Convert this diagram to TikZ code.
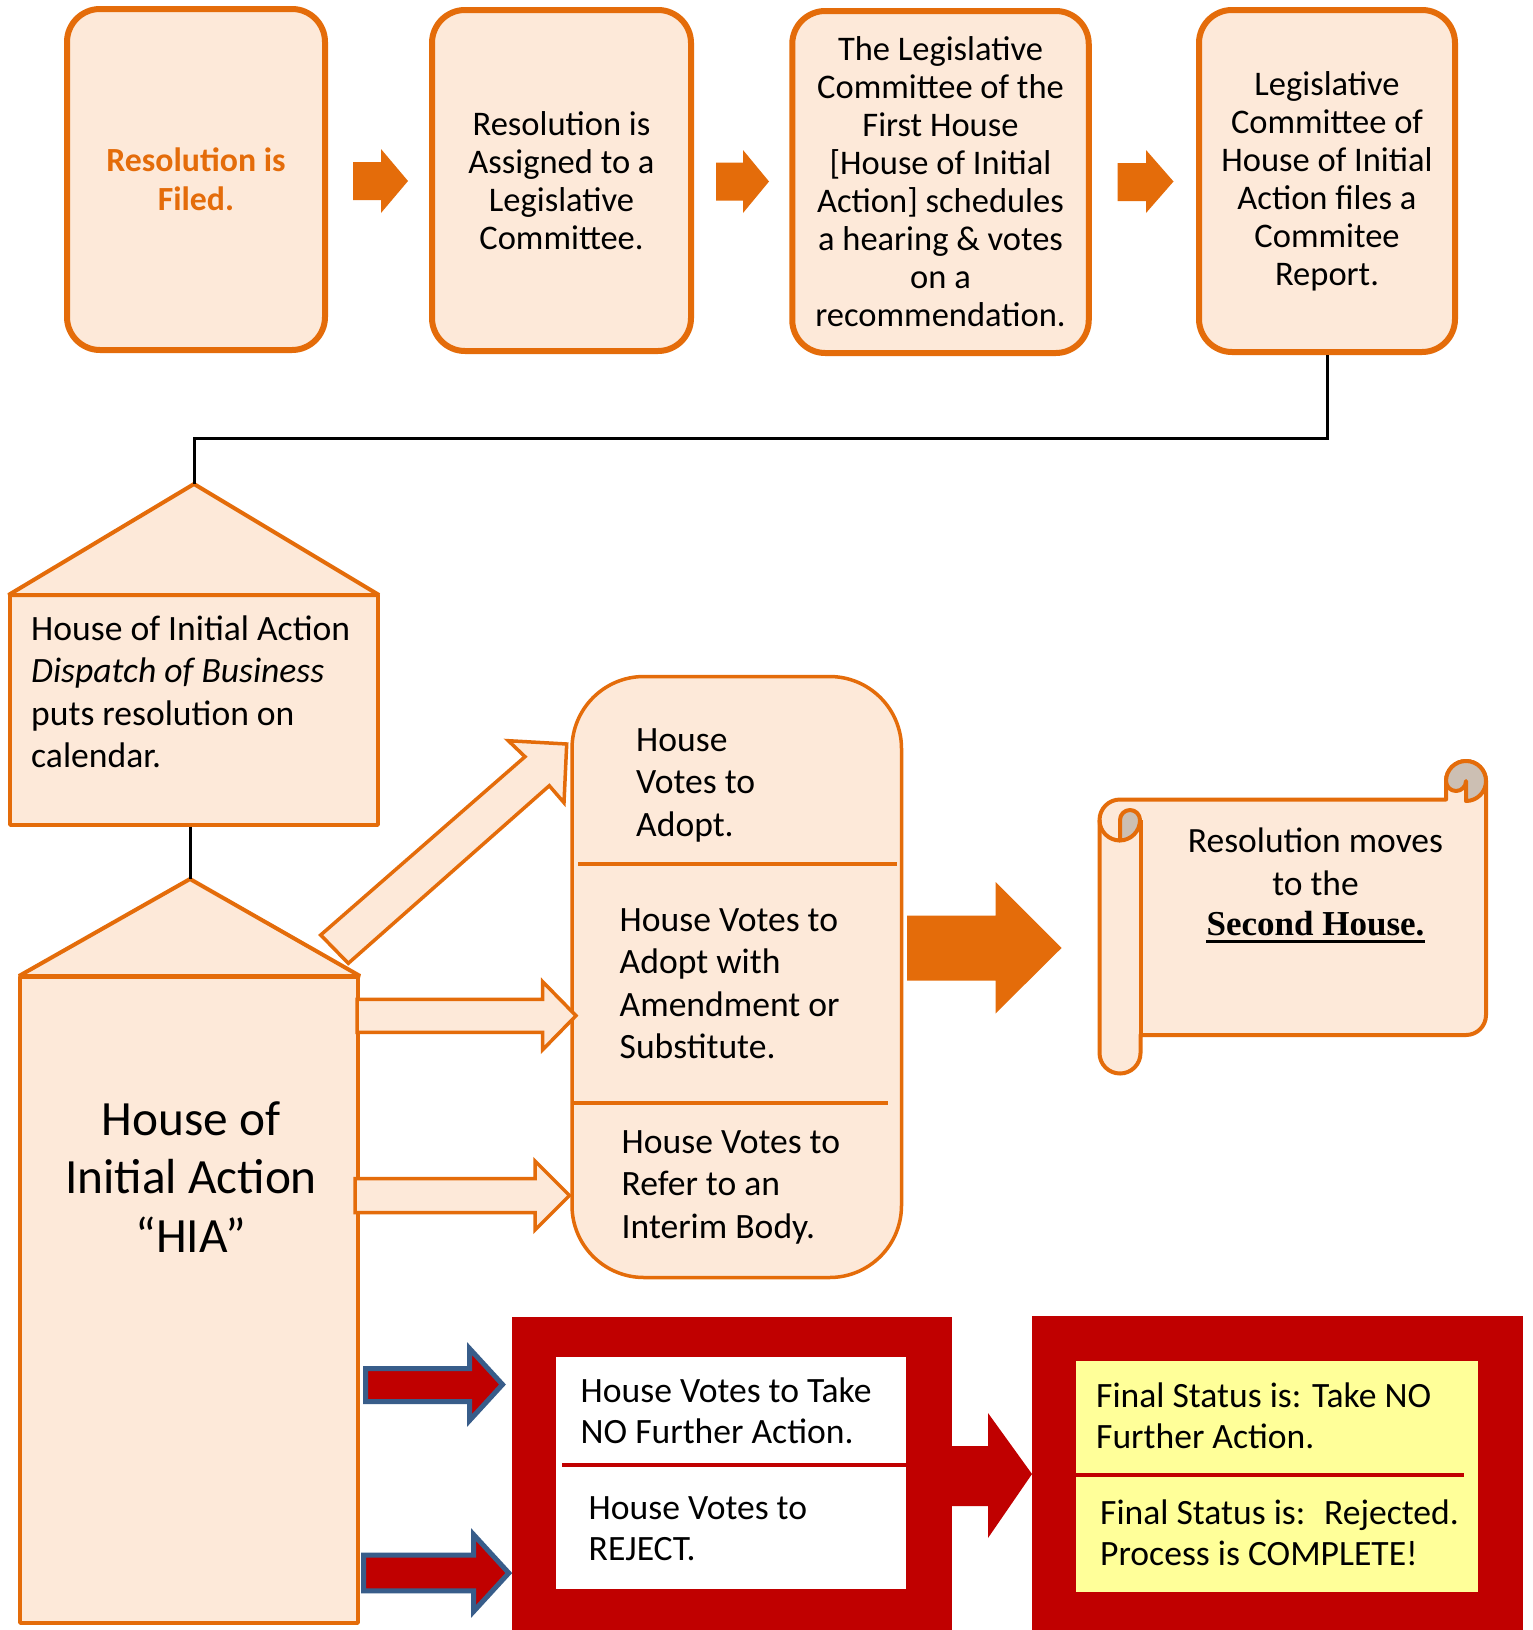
\documentclass[tikz,border=0pt]{standalone}
\usepackage{fontspec}
\setmainfont{Carlito}
\newfontfamily\serifbold{Liberation Serif}
\definecolor{orng}{HTML}{E46C0A}
\definecolor{peach}{HTML}{FDE9D9}
\definecolor{deepred}{HTML}{C00000}
\definecolor{slateblue}{HTML}{385D8A}
\definecolor{paleyellow}{HTML}{FFFF99}
\definecolor{curlgray}{HTML}{CCBFB3}
\begin{document}
\begin{tikzpicture}[x=1pt,y=-1pt,
  topbox/.style={draw=orng, fill=peach, line width=6pt, rounded corners=33pt, inner sep=0pt,
                 font=\fontsize{34.5}{38}\selectfont, align=center},
  housepart/.style={draw=orng, fill=peach, line width=4pt, line join=bevel, inner sep=0pt},
  bodyfont/.style={font=\fontsize{35.6}{42.5}\selectfont, align=left, inner sep=0pt},
  redfont/.style={font=\fontsize{35.6}{41}\selectfont, align=left, inner sep=0pt},
  hollowarrow/.style={draw=orng, fill=peach, line width=3.5pt, line join=miter},
  orngfill/.style={fill=orng},
  redarrow/.style={fill=deepred, draw=slateblue, line width=5pt, line join=miter},
  conn/.style={draw=black, line width=3pt},
  scrollline/.style={draw=orng, line width=4pt, line join=round}
]
\fill[white] (0,0) rectangle (1532,1630);
\useasboundingbox (0,0) rectangle (1532,1630);

% ---- top row of committee steps ----
\node[topbox, minimum width=258pt, minimum height=341pt,
      font=\fontsize{33.8}{39}\selectfont\bfseries, text=orng] (b1) at (196,179.5)
      {Resolution is\\Filed.};
\node[topbox, minimum width=259pt, minimum height=341pt] (b2) at (561.5,180.5)
      {Resolution is\\Assigned to a\\Legislative\\Committee.};
\node[topbox, minimum width=296.5pt, minimum height=342pt] (b3) at (940.5,182)
      {The Legislative\\Committee of the\\First House\\{}[House of Initial\\Action] schedules\\a hearing \& votes\\on a\\recommendation.};
\node[topbox, minimum width=256pt, minimum height=342pt] (b4) at (1327,181)
      {Legislative\\Committee of\\House of Initial\\Action files a\\Commitee\\Report.};

% solid block arrows between the steps
\fill[orngfill] (353,162) -- (381,162) -- (381,149) -- (408,181) -- (381,213) -- (381,200) -- (353,200) -- cycle;
\fill[orngfill] (716,162.5) -- (743,162.5) -- (743,150) -- (769,181.5) -- (743,213) -- (743,200.5) -- (716,200.5) -- cycle;
\fill[orngfill] (1117.5,163) -- (1146,163) -- (1146,150) -- (1173.5,181.5) -- (1146,213) -- (1146,201) -- (1117.5,201) -- cycle;

% ---- dispatch of business (house shape) ----
\node[housepart, minimum width=368pt, minimum height=229.5pt] (p1) at (193.5,709.75) {};
\coordinate (p1top) at (194,484);
\draw[housepart] (p1top) -- (379,595) -- (8.5,595) -- cycle;
\node[bodyfont, anchor=west] (p1text) at (31,692)
      {House of Initial Action\\\textit{Dispatch of Business}\\puts resolution on\\calendar.};

\coordinate (bend) at (194,438);
\draw[conn] (b4.south) |- (bend) -- (p1top);

% ---- house of initial action (tall house shape) ----
\node[housepart, minimum width=338pt, minimum height=645.5pt] (p2) at (188.5,1299.75) {};
\coordinate (p2top) at (190,879);
\draw[housepart] (p2top) -- (360,976) -- (19,976) -- cycle;
\node[font=\fontsize{49.3}{58.5}\selectfont, align=center, inner sep=0pt] (hia) at (191,1177)
      {House of\\Initial Action\\“HIA”};
\draw[conn] (p1.south -| p2top) -- (p2top);

% ---- vote outcomes box ----
\node[draw=orng, fill=peach, line width=3.5pt, rounded corners=72pt,
      minimum width=329.5pt, minimum height=601pt] (mid) at (736.75,977) {};
\draw[orng, line width=4pt] (578,864) -- (897,864);
\draw[orng, line width=4pt] (572,1103.4) -- (888,1103.4);
\node[bodyfont, anchor=west] (adopt) at (636,785) {House\\Votes to\\Adopt.};
\node[bodyfont, anchor=west] (amend) at (619.5,983.5) {House Votes to\\Adopt with\\Amendment or\\Substitute.};
\node[bodyfont, anchor=west] (refer) at (621.5,1187) {House Votes to\\Refer to an\\Interim Body.};

% hollow arrows from the house to the outcomes
\draw[hollowarrow] (320.7,935) -- (525,756.7) -- (508.3,740.7) -- (566.7,744) -- (564,802.7) -- (549.3,785.7) -- (348.3,963.3) -- cycle;
\draw[hollowarrow] (357,999.3) -- (542.7,999.3) -- (542.7,981.7) -- (576,1015.7) -- (542.7,1049.7) -- (542.7,1032.3) -- (357,1032.3) -- cycle;
\draw[hollowarrow] (355,1178.5) -- (535,1178.5) -- (535,1161) -- (569.5,1195.5) -- (535,1230) -- (535,1212.5) -- (355,1212.5) -- cycle;

% large arrow to the scroll
\fill[orngfill] (907,915.5) -- (995.5,915.5) -- (995.5,882) -- (1061.5,948) -- (995.5,1013.5) -- (995.5,980.5) -- (907,980.5) -- cycle;

% ---- scroll: second house ----
\draw[scrollline, fill=peach] (1099.5,1053) -- (1099.5,820) arc[start angle=180, end angle=270, radius=20.5]
  -- (1446,799.5) -- (1446,781) arc[start angle=180, end angle=360, radius=20]
  -- (1486,1015) arc[start angle=0, end angle=90, radius=20]
  -- (1140.5,1035) -- (1140.5,1053) arc[start angle=0, end angle=180, radius=20.5] -- cycle;
% left roll
\draw[scrollline, fill=curlgray] (1120,840.5) -- (1120,820) arc[start angle=180, end angle=360, radius=10]
  arc[start angle=0, end angle=90, radius=20.5] -- cycle;
\draw[scrollline] (1099.5,820) arc[start angle=180, end angle=90, radius=20.5];
\draw[scrollline] (1140.5,820) -- (1140.5,1035);
% right roll
\draw[scrollline, fill=curlgray] (1446,781) arc[start angle=180, end angle=360, radius=20]
  arc[start angle=0, end angle=90, radius=20] -- (1466,781)
  arc[start angle=0, end angle=180, radius=10] -- cycle;
\node[font=\fontsize{35.5}{43}\selectfont, align=center, inner sep=0pt] (scrolltext) at (1315.5,861.5)
      {Resolution moves\\to the};
\node[anchor=base, font=\serifbold\bfseries\fontsize{35}{40}\selectfont, inner sep=0pt] (second) at (1315.5,935)
      {Second House.};
\draw[line width=3pt] ([yshift=-6pt]second.base west) -- ([yshift=-6pt]second.base east);

% ---- negative outcomes ----
\node[fill=deepred, minimum width=440.5pt, minimum height=313pt, inner sep=0pt] (r1) at (731.75,1473.5) {};
\node[fill=white, minimum width=349.6pt, minimum height=232pt, inner sep=0pt] (w1) at (731.2,1473.3) {};
\draw[deepred, line width=3.3pt] (562,1465) -- (906,1465);
\node[redfont, anchor=west] (nofurther) at (580.5,1411) {House Votes to Take\\NO Further Action.};
\node[redfont, anchor=west] (reject) at (588.5,1528.5) {House Votes to\\REJECT.};

\node[fill=deepred, minimum width=490.7pt, minimum height=314pt, inner sep=0pt] (r2) at (1277.35,1473) {};
\node[fill=paleyellow, minimum width=401.5pt, minimum height=231pt, inner sep=0pt] (y2) at (1276.75,1476.5) {};
\draw[deepred, line width=3.5pt] (1076,1475) -- (1464,1475);
\node[redfont, anchor=west] (finalno) at (1096,1415.5) {Final Status is: Take NO\\Further Action.};
\node[redfont, anchor=west] (finalrej) at (1100,1532.5) {Final Status is:~ Rejected.\\Process is COMPLETE!};

% red arrows
\draw[redarrow] (365.5,1368.5) -- (469.5,1368.5) -- (469.5,1348.5) -- (502.5,1384.5) -- (469.5,1420.5) -- (469.5,1401.5) -- (365.5,1401.5) -- cycle;
\draw[redarrow] (363.5,1555.2) -- (473.5,1555.2) -- (473.5,1534.5) -- (508.8,1573) -- (473.5,1611.5) -- (473.5,1590.8) -- (363.5,1590.8) -- cycle;
\fill[deepred] (r1.east |- 0,1446) -- (988,1446) -- (988,1413) -- (1032,1474) -- (988,1538) -- (988,1506) -- (r1.east |- 0,1506) -- cycle;
\end{tikzpicture}
\end{document}
